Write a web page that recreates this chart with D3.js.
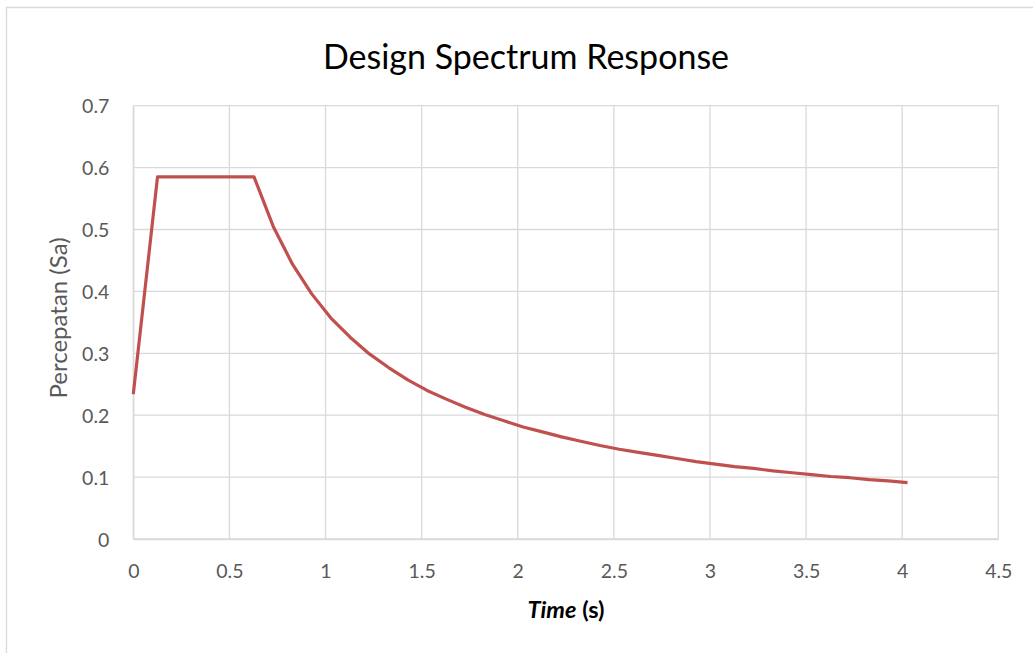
<!DOCTYPE html>
<html>
<head>
<meta charset="utf-8">
<script src="https://cdn.jsdelivr.net/npm/d3@7"></script>
<style>
  html, body { margin: 0; padding: 0; background: #fff; }
  svg { display: block; }
</style>
</head>
<body>
<svg id="chart" width="1033" height="653"></svg>
<script>
// ---- data ----
const periodT = [0, 0.126, 0.628, 0.728, 0.828, 0.928, 1.028, 1.128, 1.228, 1.328, 1.428,
  1.528, 1.628, 1.728, 1.828, 1.928, 2.028, 2.128, 2.228, 2.328, 2.428, 2.528, 2.628,
  2.728, 2.828, 2.928, 3.028, 3.128, 3.228, 3.328, 3.428, 3.528, 3.628, 3.728, 3.828,
  3.928, 4.028];
const accelSa = [0.234, 0.585, 0.585, 0.505, 0.444, 0.396, 0.357, 0.326, 0.299, 0.277, 0.257,
  0.240, 0.226, 0.213, 0.201, 0.191, 0.181, 0.173, 0.165, 0.158, 0.151, 0.145, 0.140,
  0.135, 0.130, 0.125, 0.121, 0.117, 0.114, 0.110, 0.107, 0.104, 0.101, 0.099, 0.096,
  0.094, 0.091];
const xTicks = [0, 0.5, 1, 1.5, 2, 2.5, 3, 3.5, 4, 4.5];
const yTicks = [0, 0.1, 0.2, 0.3, 0.4, 0.5, 0.6, 0.7];
const titleText = "Design Spectrum Response";
const yTitleText = "Percepatan (Sa)";

// ---- layout ----
const svg = d3.select("#chart");
const FONT = "Lato, 'Open Sans', sans-serif";
const plot = { left: 133.3, right: 998.3, top: 105.7, bottom: 539 };

const x = d3.scaleLinear().domain([0, 4.5]).range([plot.left, plot.right]);
const y = d3.scaleLinear().domain([0, 0.7]).range([plot.bottom, plot.top]);

// chart border (top + left visible)
svg.append("path")
  .attr("d", "M6.5,660 L6.5,7.5 L1040,7.5")
  .attr("fill", "none").attr("stroke", "#d9d9d9").attr("stroke-width", 1.3);

// gridlines
const grid = svg.append("g");
grid.selectAll("line.h").data(yTicks).join("line")
  .attr("x1", plot.left).attr("x2", plot.right)
  .attr("y1", d => y(d)).attr("y2", d => y(d))
  .attr("stroke", "#d9d9d9").attr("stroke-width", 1.3);
grid.selectAll("line.v").data(xTicks).join("line")
  .attr("y1", plot.top).attr("y2", plot.bottom)
  .attr("x1", d => x(d)).attr("x2", d => x(d))
  .attr("stroke", "#d9d9d9").attr("stroke-width", 1.3);

// axes (labels only, using d3 axes)
const xAxis = svg.append("g").attr("transform", `translate(0,${plot.bottom})`)
  .call(d3.axisBottom(x).tickValues(xTicks).tickSize(0).tickPadding(0).tickFormat(d3.format("")));
xAxis.select(".domain").attr("stroke", "#d9d9d9").attr("stroke-width", 1.3);
xAxis.selectAll("text").attr("font-family", FONT).attr("font-size", 19.5)
  .attr("fill", "#595959").attr("dy", null).attr("y", 38.5);

const yAxis = svg.append("g").attr("transform", `translate(${plot.left},0)`)
  .call(d3.axisLeft(y).tickValues(yTicks).tickSize(0).tickPadding(0).tickFormat(d3.format("")));
yAxis.select(".domain").attr("stroke", "#d9d9d9").attr("stroke-width", 1.3);
yAxis.selectAll("text").attr("font-family", FONT).attr("font-size", 19.5)
  .attr("fill", "#595959").attr("x", -24).attr("dy", "0.36em");

// line
const pts = periodT.map((t, i) => [t, accelSa[i]]);
svg.append("path")
  .datum(pts)
  .attr("fill", "none")
  .attr("stroke", "#c0504d")
  .attr("stroke-width", 3.2)
  .attr("stroke-linejoin", "round")
  .attr("d", d3.line().x(d => x(d[0])).y(d => y(d[1])));

// title
svg.append("text")
  .attr("x", 526).attr("y", 69)
  .attr("text-anchor", "middle")
  .attr("font-family", FONT).attr("font-size", 34)
  .attr("fill", "#000")
  .text(titleText);

// y axis title
svg.append("text")
  .attr("transform", `translate(67,${318}) rotate(-90)`)
  .attr("text-anchor", "middle")
  .attr("font-family", FONT).attr("font-size", 24)
  .attr("fill", "#595959")
  .text(yTitleText);

// x axis title
const xt = svg.append("text")
  .attr("x", 566).attr("y", 618)
  .attr("text-anchor", "middle")
  .attr("font-family", FONT).attr("font-size", 23.5)
  .attr("font-weight", "bold").attr("fill", "#000");
xt.append("tspan").attr("font-style", "italic").text("Time");
xt.append("tspan").text(" (s)");
</script>
</body>
</html>
